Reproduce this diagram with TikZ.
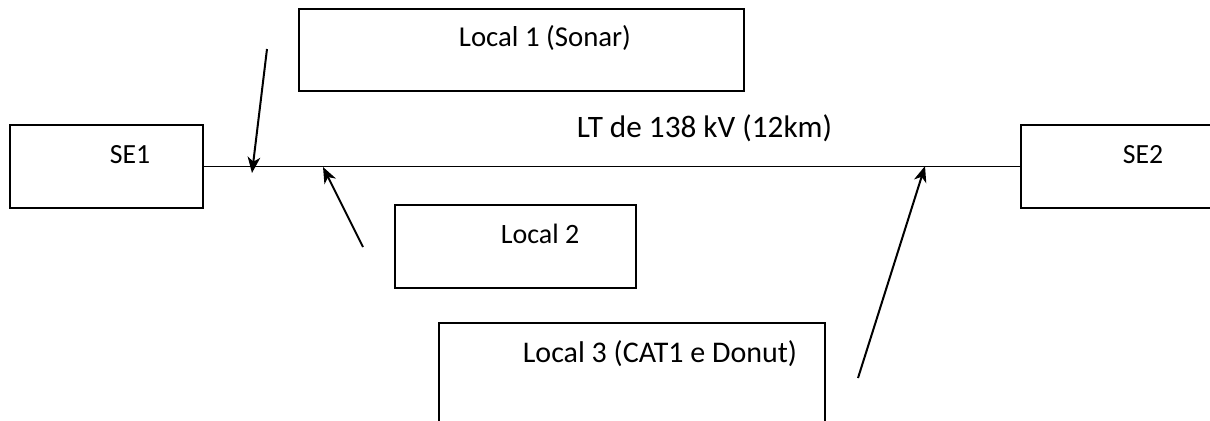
\documentclass[tikz,border=0pt]{standalone}
\usepackage{fontspec}
\setmainfont{Carlito}
\usetikzlibrary{arrows.meta}
\begin{document}
\begin{tikzpicture}[x=0.75pt,y=-0.75pt,
  box/.style={draw,line width=1.5pt,inner sep=0pt,outer sep=0pt},
  lbl/.style={inner sep=0pt,anchor=base},
  wire/.style={line width=1.1pt},
  feed/.style={line width=1.5pt,-{Stealth[length=12pt,width=9.5pt,inset=3.5pt]}}]
\clip (0,0) rectangle (1210,421);
\fill[white] (0,0) rectangle (1210,421);
% boxes
\node[box,minimum width=193*0.75pt,minimum height=83*0.75pt] (se1) at (106.5,166.5) {};
\node[box,minimum width=193*0.75pt,minimum height=83*0.75pt] (se2) at (1117.5,166.5) {};
\node[box,minimum width=445*0.75pt,minimum height=82*0.75pt] (l1) at (521.5,50) {};
\node[box,minimum width=241*0.75pt,minimum height=83*0.75pt] (l2) at (515.5,246.5) {};
\node[box,minimum width=386*0.75pt,minimum height=104*0.75pt] (l3) at (632,375) {};
% texts
\node[lbl,font=\fontsize{20.8}{24}\selectfont] (t1) at (130,163) {SE1};
\node[lbl,font=\fontsize{20.8}{24}\selectfont] (t2) at (1143,163) {SE2};
\node[lbl,font=\fontsize{21.6}{24}\selectfont] (t3) at (545,46) {Local 1 (Sonar)};
\node[lbl,font=\fontsize{21}{24}\selectfont] (t4) at (540,243) {Local 2};
\node[lbl,font=\fontsize{22.5}{24}\selectfont] (t5) at (660,362) {Local 3 (CAT1 e Donut)};
\node[lbl,font=\fontsize{23.4}{24}\selectfont] (t6) at (704.5,137) {LT de 138 kV (12km)};
% line
\draw[wire] (se1.east) -- (se2.west);
% arrows
\coordinate (a1s) at (267,49);
\coordinate (a1e) at (252,173);
\coordinate (a2s) at (363,247);
\coordinate (a2e) at (323,167);
\coordinate (a3s) at (858,378);
\coordinate (a3e) at (925,166);
\draw[feed] (a1s) -- (a1e);
\draw[feed] (a2s) -- (a2e);
\draw[feed] (a3s) -- (a3e);
\end{tikzpicture}
\end{document}
